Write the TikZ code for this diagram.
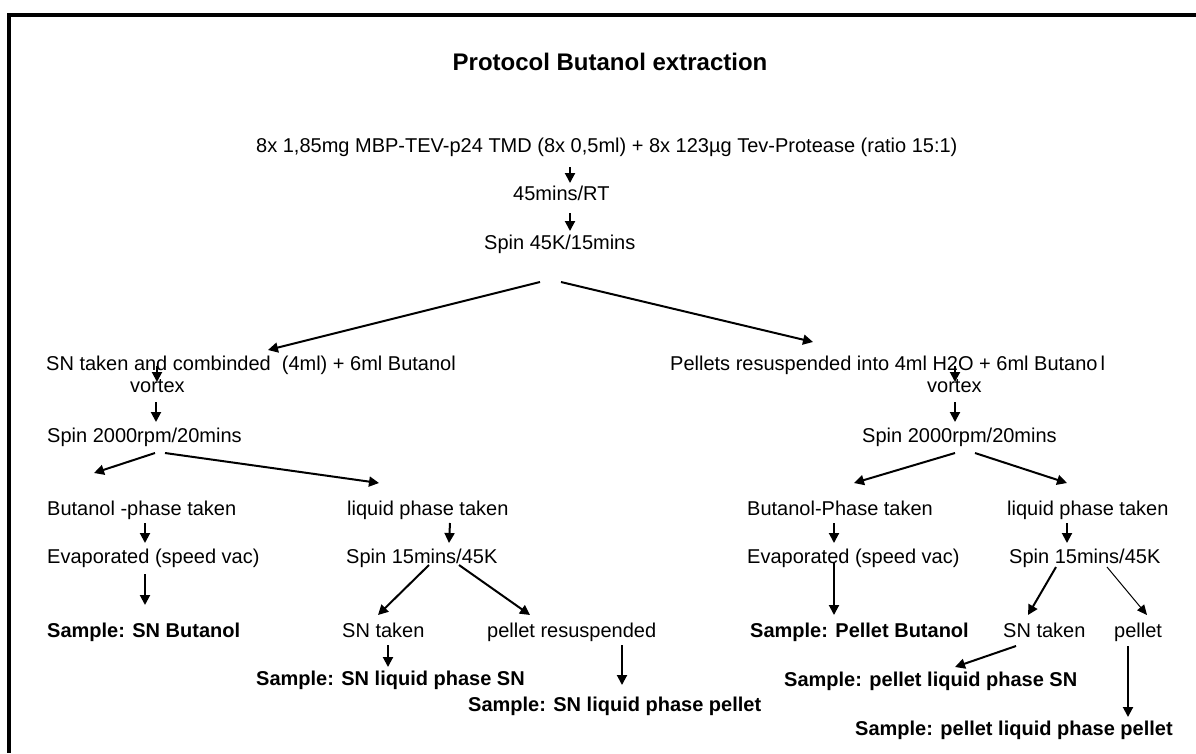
\documentclass[tikz,border=0pt]{standalone}
\usepackage{fontspec}
\setmainfont{Liberation Sans}
\usepackage{tikz}
\usetikzlibrary{arrows.meta}

\tikzset{
  txt/.style={anchor=base west, inner sep=0pt, font=\fontsize{20}{24}\selectfont},
  sample/.style={txt, font=\fontsize{20}{24}\selectfont\bfseries},
  arr/.style={line width=2pt, -{Triangle[length=10pt,width=10pt]}},
  thinarr/.style={line width=1pt, -{Triangle[length=10pt,width=9pt]}}
}

\begin{document}
\begin{tikzpicture}[x=1pt, y=-1pt]
\useasboundingbox (0,0) rectangle (1196,753);
\draw[line width=4pt] (1196,15) -- (9,15) -- (9,753);

\node[anchor=base, inner sep=0pt, font=\fontsize{24}{28}\selectfont\bfseries] (title) at (610,70) {Protocol Butanol extraction};

% common start
\node[txt] (mix) at (256,152) {8x 1,85mg MBP-TEV-p24 TMD (8x 0,5ml) + 8x 123µg Tev-Protease (ratio 15:1)};
\node[txt] (incub) at (513,200) {45mins/RT};
\node[txt] (spin) at (484,249) {Spin 45K/15mins};
\node[txt] (snc) at (46,370) {SN taken and combinded\ \ (4ml) + 6ml Butanol};
\node[txt] (pel) at (670,370) {Pellets resuspended into 4ml H2O + 6ml Butano\hspace{3pt}l};

% SN branch
\node[txt] (vorA) at (130,392) {vortex};
\node[txt] (spinA) at (47,442) {Spin 2000rpm/20mins};
\node[txt] (butA) at (47,515) {Butanol -phase taken};
\node[txt] (evapA) at (47,563) {Evaporated (speed vac)};
\node[sample] (sampA) at (47,637) {Sample: SN Butanol};
\node[txt] (liqA) at (347,515) {liquid phase taken};
\node[txt] (spinAA) at (346,563) {Spin 15mins/45K};
\node[txt] (snA) at (342,637) {SN taken};
\node[sample] (sampAB) at (256,685) {Sample: SN liquid phase SN};
\node[txt] (pelA) at (487,637) {pellet resuspended};
\node[sample] (sampAC) at (468,711) {Sample: SN liquid phase pellet};

% pellet branch
\node[txt] (vorB) at (927,392) {vortex};
\node[txt] (spinB) at (862,442) {Spin 2000rpm/20mins};
\node[txt] (butB) at (747,515) {Butanol-Phase taken};
\node[txt] (evapB) at (747,563) {Evaporated (speed vac)};
\node[sample] (sampB) at (750,637) {Sample: Pellet Butanol};
\node[txt] (liqB) at (1007,515) {liquid phase taken};
\node[txt] (spinBB) at (1009,563) {Spin 15mins/45K};
\node[txt] (snB) at (1003,637) {SN taken};
\node[sample] (sampBB) at (784,686) {Sample: pellet liquid phase SN};
\node[txt] (pelB) at (1114,637) {pellet};
\node[sample] (sampBC) at (855,735) {Sample: pellet liquid phase pellet};

% arrows
\draw[arr] ([shift={(314,15)}]mix.base west) -- ([shift={(57,-17)}]incub.base west);
\draw[arr] ([shift={(57,13)}]incub.base west) -- ([shift={(86,-18)}]spin.base west);
\draw[arr] ([shift={(56,33)}]spin.base west) -- ([shift={(222,-20)}]snc.base west);
\draw[arr] ([shift={(77,33)}]spin.base west) -- ([shift={(143,-28)}]pel.base west);

\draw[arr] ([shift={(111,-4)}]snc.base west) -- ([shift={(27,-10)}]vorA.base west);
\draw[arr] ([shift={(26,10)}]vorA.base west) -- ([shift={(109,-20)}]spinA.base west);
\draw[arr] ([shift={(108,11)}]spinA.base west) -- ([shift={(47,-42)}]butA.base west);
\draw[arr] ([shift={(118,11)}]spinA.base west) -- ([shift={(32,-32)}]liqA.base west);
\draw[arr] ([shift={(98,8)}]butA.base west) -- ([shift={(98,-20)}]evapA.base west);
\draw[arr] ([shift={(98,11)}]evapA.base west) -- ([shift={(98,-32)}]sampA.base west);
\draw[arr] ([shift={(103,8)}]liqA.base west) -- ([shift={(103,-20)}]spinAA.base west);
\draw[arr] ([shift={(83,2)}]spinAA.base west) -- ([shift={(36,-22)}]snA.base west);
\draw[arr] ([shift={(113,2)}]spinAA.base west) -- ([shift={(43,-22)}]pelA.base west);
\draw[arr] ([shift={(46,8)}]snA.base west) -- ([shift={(132,-18)}]sampAB.base west);
\draw[arr] ([shift={(135,8)}]pelA.base west) -- ([shift={(154,-26)}]sampAC.base west);

\draw[arr] ([shift={(285,-4)}]pel.base west) -- ([shift={(28,-10)}]vorB.base west);
\draw[arr] ([shift={(28,10)}]vorB.base west) -- ([shift={(93,-20)}]spinB.base west);
\draw[arr] ([shift={(93,11)}]spinB.base west) -- ([shift={(107,-32)}]butB.base west);
\draw[arr] ([shift={(113,11)}]spinB.base west) -- ([shift={(60,-32)}]liqB.base west);
\draw[arr] ([shift={(87,8)}]butB.base west) -- ([shift={(87,-20)}]evapB.base west);
\draw[arr] ([shift={(87,0)}]evapB.base west) -- ([shift={(84,-22)}]sampB.base west);
\draw[arr] ([shift={(60,8)}]liqB.base west) -- ([shift={(58,-20)}]spinBB.base west);
\draw[arr] ([shift={(47,4)}]spinBB.base west) -- ([shift={(25,-22)}]snB.base west);
\draw[thinarr] ([shift={(98,4)}]spinBB.base west) -- ([shift={(33,-22)}]pelB.base west);
\draw[arr] ([shift={(13,9)}]snB.base west) -- ([shift={(171,-19)}]sampBB.base west);
\draw[arr] ([shift={(14,9)}]pelB.base west) -- ([shift={(273,-18)}]sampBC.base west);
\end{tikzpicture}
\end{document}
